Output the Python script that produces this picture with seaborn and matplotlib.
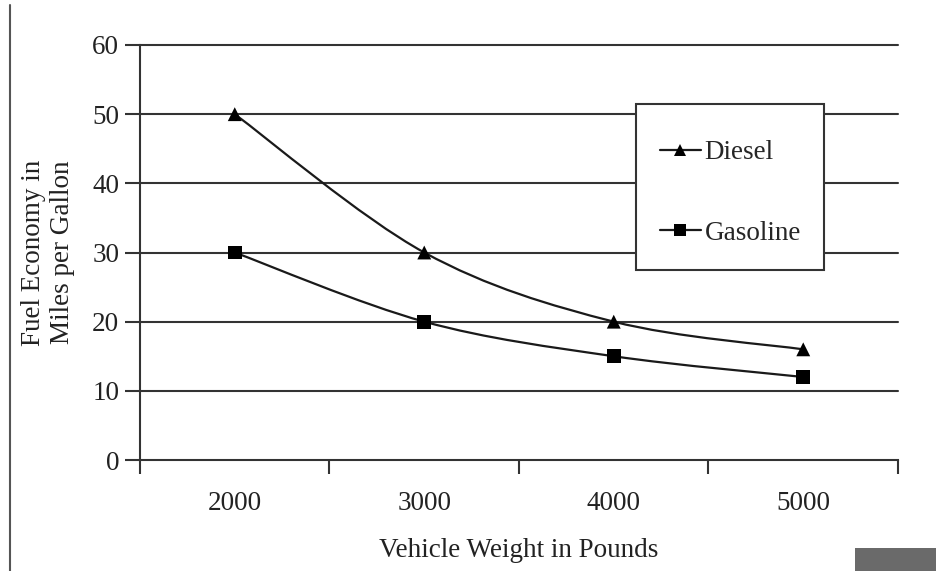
import matplotlib
matplotlib.use("Agg")
import matplotlib.pyplot as plt
import seaborn as sns
import pandas as pd
import numpy as np
from matplotlib.path import Path
from matplotlib.patches import PathPatch, Rectangle
from matplotlib.lines import Line2D

categories = ["2000", "3000", "4000", "5000"]
diesel = [50, 30, 20, 16]
gasoline = [30, 20, 15, 12]
yticks = [0, 10, 20, 30, 40, 50, 60]

sns.set_theme(style="white")
plt.rcParams["font.family"] = ["Liberation Serif", "DejaVu Serif"]

FS = 19.5
fig = plt.figure(figsize=(9.37, 5.71), dpi=100)
ax = fig.add_axes([140/937, 1 - 460/571, (898-140)/937, (460-45)/571])

def ax_x(px):
    return (px - 140) / 758

def ax_y(py):
    return (460 - py) / 415

df = pd.DataFrame({
    "x": list(range(len(categories))) * 2,
    "y": diesel + gasoline,
    "series": ["Diesel"] * 4 + ["Gasoline"] * 4,
})

line_col = "#1a1a1a"

def smooth_path(xs, ys):
    pts = np.column_stack([xs, ys]).astype(float)
    n = len(pts)
    verts = [pts[0]]
    codes = [Path.MOVETO]
    for i in range(n - 1):
        p0 = pts[i - 1] if i > 0 else pts[i]
        p1 = pts[i]
        p2 = pts[i + 1]
        p3 = pts[i + 2] if i + 2 < n else pts[i + 1]
        c1 = p1 + (p2 - p0) / 6.0
        c2 = p2 - (p3 - p1) / 6.0
        verts += [c1, c2, p2]
        codes += [Path.CURVE4] * 3
    return Path(verts, codes)

for name, vals in [("Diesel", diesel), ("Gasoline", gasoline)]:
    p = smooth_path(range(len(vals)), vals)
    ax.add_patch(PathPatch(p, facecolor="none", edgecolor=line_col, lw=1.6, zorder=3))

sns.scatterplot(data=df, x="x", y="y", style="series",
                markers={"Diesel": "^", "Gasoline": "s"},
                color="black", s=100, edgecolor="black", linewidth=0,
                legend=False, ax=ax, zorder=4)

ax.set_xlim(-0.5, len(categories) - 0.5)
ax.set_ylim(0, 60)
ax.set_yticks(yticks)
ax.set_yticklabels([str(v) for v in yticks], fontsize=FS, color="#222222")
ax.set_xticks(range(len(categories)))
ax.set_xticklabels(categories, fontsize=FS, color="#222222")
ax.set_xticks(np.arange(-0.5, len(categories), 1.0), minor=True)

for v in yticks[1:]:
    ax.axhline(v, color="#333333", lw=1.5, zorder=1, clip_on=False)

for s in ["top", "right"]:
    ax.spines[s].set_visible(False)
for s in ["left", "bottom"]:
    ax.spines[s].set_color("#333333")
    ax.spines[s].set_linewidth(1.5)

ax.tick_params(axis="y", which="major", direction="out", length=11, width=1.5,
               color="#333333", pad=4, left=True)
ax.tick_params(axis="x", which="major", length=0, pad=22, bottom=True)
ax.tick_params(axis="x", which="minor", direction="out", length=10, width=1.5,
               color="#333333", bottom=True)

ax.set_xlabel("Vehicle Weight in Pounds", fontsize=FS, color="#222222", labelpad=16)
ax.set_ylabel("Fuel Economy in\nMiles per Gallon", fontsize=FS, color="#222222",
              labelpad=12, linespacing=1.25)
ax.set_facecolor("white")

# legend box
ax.add_patch(Rectangle((ax_x(636), ax_y(270)), ax_x(824) - ax_x(636), ax_y(104) - ax_y(270),
                       transform=ax.transAxes, facecolor="white", edgecolor="#333333",
                       lw=1.5, zorder=5, clip_on=False))

handles = [
    Line2D([], [], color=line_col, lw=1.6, marker="^", markersize=9, markeredgewidth=0,
           markerfacecolor="black"),
    Line2D([], [], color=line_col, lw=1.6, marker="s", markersize=8, markeredgewidth=0,
           markerfacecolor="black"),
]
leg = ax.legend(handles, ["Diesel", "Gasoline"], loc="upper left",
                bbox_to_anchor=(ax_x(660), ax_y(140)),
                fontsize=FS, frameon=False,
                handlelength=1.5, handletextpad=0.15, labelspacing=2.05,
                borderpad=0, borderaxespad=0)
leg.set_zorder(6)

fig.add_artist(Line2D([10/937, 10/937], [0, 1 - 5/571], transform=fig.transFigure,
                      color="#555555", lw=1.5))
fig.add_artist(Rectangle((855/937, 0), (937-855)/937, 23/571, transform=fig.transFigure,
                         facecolor="#6a6a6a", edgecolor="none"))

fig.savefig("out.png", dpi=100)
